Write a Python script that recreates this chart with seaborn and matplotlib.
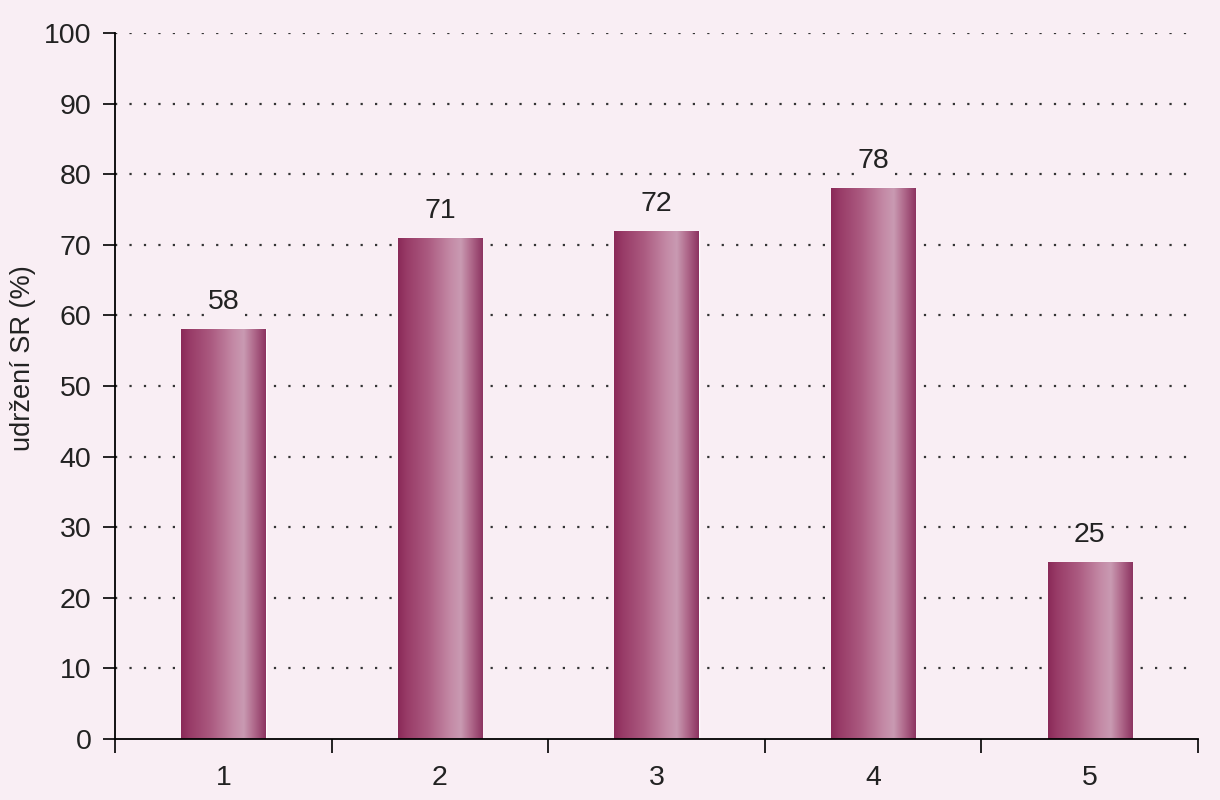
"""Bar chart: udržení SR (%) for five groups."""

import matplotlib

matplotlib.use("Agg")

import matplotlib.pyplot as plt
import numpy as np
import pandas as pd
import seaborn as sns
from matplotlib.colors import LinearSegmentedColormap

# data
categories = ["1", "2", "3", "4", "5"]
values = [58, 71, 72, 78, 25]
y_ticks = [0, 10, 20, 30, 40, 50, 60, 70, 80, 90, 100]
y_label = "udržení SR (%)"

BG = "#f9eef4"
BAR_BASE = "#a4507a"

# horizontal shading across each bar: dark edge -> light band -> dark edge
bar_cmap = LinearSegmentedColormap.from_list(
    "bar_shade",
    [
        (0.00, "#8a2a58"),
        (0.10, "#983b67"),
        (0.35, "#ab5a80"),
        (0.62, "#c48aa6"),
        (0.74, "#c99ab2"),
        (0.86, "#b06a8c"),
        (1.00, "#8c3461"),
    ],
)

sns.set_theme(style="white")
plt.rcParams["font.family"] = ["Liberation Sans", "DejaVu Sans"]

df = pd.DataFrame({"group": categories, "value": values})

fig = plt.figure(figsize=(12.2, 8.0), dpi=100, facecolor=BG)
ax = fig.add_axes([0.0943, 0.0763, 0.8877, 0.8825])
ax.set_facecolor(BG)

sns.barplot(data=df, x="group", y="value", color=BAR_BASE, width=0.39,
            saturation=1, ax=ax, zorder=3)

# gradient fill clipped to each bar
grad = np.linspace(0, 1, 256).reshape(1, -1)
for patch in ax.patches:
    x0, y0 = patch.get_x(), patch.get_y()
    w, h = patch.get_width(), patch.get_height()
    im = ax.imshow(grad, cmap=bar_cmap, aspect="auto",
                   extent=(x0, x0 + w, y0, y0 + h), zorder=4)
    im.set_clip_path(patch)

# value labels above bars (background hides the dotted grid behind them)
for i, v in enumerate(values):
    ax.text(i, v + 2.0, str(v), ha="center", va="bottom", fontsize=20.5,
            color="#222222", zorder=5,
            bbox=dict(facecolor=BG, edgecolor="none", pad=1.5))

ax.set_xlim(-0.5, len(categories) - 0.5)
ax.set_ylim(0, 100)

# dotted horizontal grid
for y in y_ticks[1:]:
    ax.axhline(y, color="#333333", lw=1.6, linestyle=(0, (1, 5.5)), zorder=1)

ax.set_yticks(y_ticks)
ax.set_yticklabels([str(t) for t in y_ticks])
ax.tick_params(axis="y", direction="out", length=9, width=1.2, color="black",
               labelsize=20.5, labelcolor="#222222", pad=8, left=True)

# x ticks sit on category boundaries, labels at centres
ax.set_xticks(np.arange(-0.5, len(categories), 1.0))
ax.set_xticklabels([])
ax.set_xticks(range(len(categories)), minor=True)
ax.set_xticklabels(categories, minor=True)
ax.tick_params(axis="x", which="major", direction="out", length=10, width=1.2,
               color="black", bottom=True)
ax.tick_params(axis="x", which="minor", length=0, labelsize=20.5,
               labelcolor="#222222", pad=19)

ax.set_xlabel("")
ax.set_ylabel(y_label, fontsize=19.5, color="#222222")
ax.yaxis.set_label_coords(-0.073, 0.54)

sns.despine(ax=ax)
for side in ("left", "bottom"):
    ax.spines[side].set_color("black")
    ax.spines[side].set_linewidth(1.3)
    ax.spines[side].set_zorder(6)

fig.savefig("out.png", dpi=100, facecolor=BG)
plt.close(fig)
